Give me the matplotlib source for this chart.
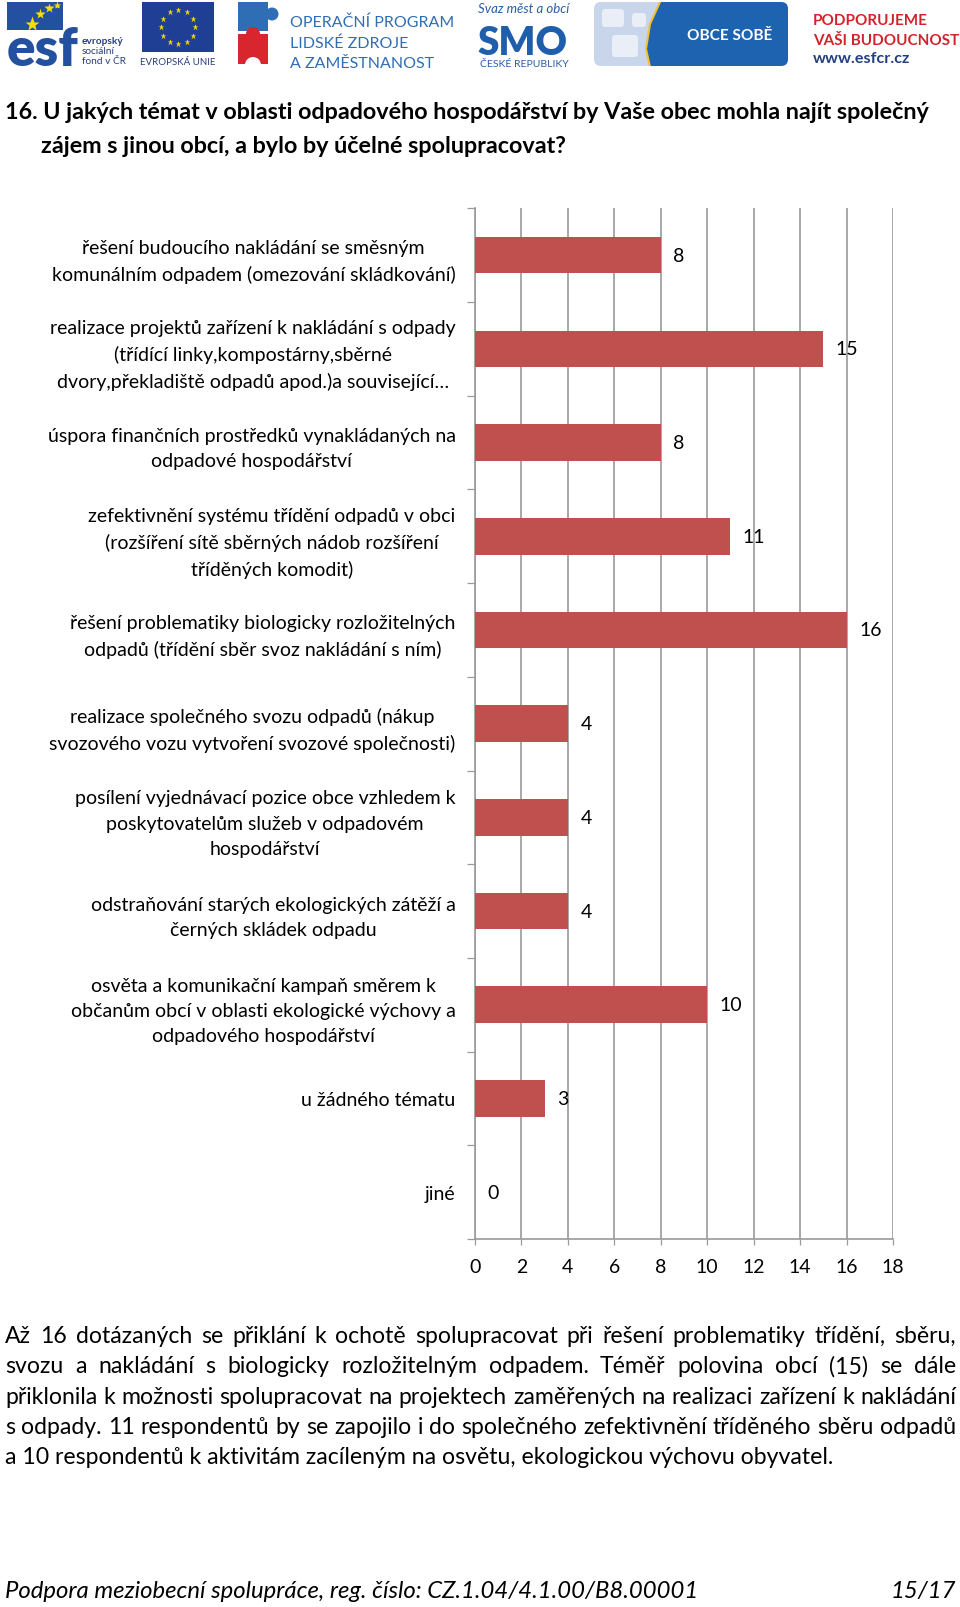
import numpy as np
import matplotlib
matplotlib.use("Agg")
import matplotlib.pyplot as plt
from matplotlib import font_manager
from matplotlib.font_manager import FontProperties
from matplotlib.patches import Rectangle, FancyBboxPatch, Circle, Polygon

W, H = 960, 1608

# ---- data ----
categories = [
    "řešení budoucího nakládání se směsným\nkomunálním odpadem (omezování skládkování)",
    "realizace projektů zařízení k nakládání s odpady\n(třídící linky,kompostárny,sběrné\ndvory,překladiště odpadů apod.)a související…",
    "úspora finančních prostředků vynakládaných na\nodpadové hospodářství",
    "zefektivnění systému třídění odpadů v obci\n(rozšíření sítě sběrných nádob rozšíření\ntříděných komodit)",
    "řešení problematiky biologicky rozložitelných\nodpadů (třídění sběr svoz nakládání s ním)",
    "realizace společného svozu odpadů (nákup\nsvozového vozu vytvoření svozové společnosti)",
    "posílení vyjednávací pozice obce vzhledem k\nposkytovatelům služeb v odpadovém\nhospodářství",
    "odstraňování starých ekologických zátěží a\nčerných skládek odpadu",
    "osvěta a komunikační kampaň směrem k\nobčanům obcí v oblasti ekologické výchovy a\nodpadového hospodářství",
    "u žádného tématu",
    "jiné",
]
values = [8, 15, 8, 11, 16, 4, 4, 4, 10, 3, 0]
xticks = list(range(0, 19, 2))

heading = [
    "16. U jakých témat v oblasti odpadového hospodářství by Vaše obec mohla najít společný",
    "zájem s jinou obcí, a bylo by účelné spolupracovat?",
]
paragraph = [
    "Až 16 dotázaných se přiklání k ochotě spolupracovat při řešení problematiky třídění, sběru,",
    "svozu a nakládání s biologicky rozložitelným odpadem. Téměř polovina obcí (15) se dále",
    "přiklonila k možnosti spolupracovat na projektech zaměřených na realizaci zařízení k nakládání",
    "s odpady. 11 respondentů by se zapojilo i do společného zefektivnění tříděného sběru odpadů",
    "a 10 respondentů k aktivitám zacíleným na osvětu, ekologickou výchovu obyvatel.",
]
footer_left = "Podpora meziobecní spolupráce, reg. číslo: CZ.1.04/4.1.00/B8.00001"
footer_right = "15/17"

# ---- fonts ----
names = {f.name for f in font_manager.fontManager.ttflist}
BODY = "Lato" if "Lato" in names else "DejaVu Sans"
NARROW = "Liberation Sans Narrow" if "Liberation Sans Narrow" in names else BODY

BAR = "#C0504D"
GRID = "#9a9a9a"

fig = plt.figure(figsize=(W / 100, H / 100), dpi=100, facecolor="white")
r = fig.canvas.get_renderer()

page = fig.add_axes([0, 0, 1, 1])
page.set_xlim(0, W)
page.set_ylim(H, 0)
page.axis("off")


def width_px(s, size=10, **kw):
    t = page.text(0, 0, s, fontsize=size, **kw)
    w = t.get_window_extent(r).width
    t.remove()
    return w


def fit(s, target, **kw):
    return 10 * target / width_px(s, 10, **kw)


# ---- logo strip ----
# esf
page.add_patch(Rectangle((7, 3), 56, 28, color="#2450a0", lw=0))
for sx, sy, ms in [(32, 25, 11), (40, 15, 8), (49, 9, 7), (57, 6, 6)]:
    page.plot(sx, sy, marker="*", color="#f4e000", ms=ms, mec="none")
fs = fit("esf", 72, family=BODY, weight="heavy")
page.text(7, 66, "esf", fontsize=fs, family=BODY, weight="heavy", color="#2450a0",
          va="baseline", ha="left")
for txt, yy, wt in [("evropský", 44, "bold"), ("sociální", 54, "normal"), ("fond v ČR", 64, "normal")]:
    page.text(82, yy, txt, fontsize=7.3, family=BODY, weight=wt, color="#2a3f7f", va="baseline")
# EU flag
page.add_patch(Rectangle((142, 3), 72, 50, color="#1f3f95", lw=0))
ang = np.linspace(0, 2 * np.pi, 13)[:-1]
page.plot(178 + 17 * np.cos(ang), 28 + 17 * np.sin(ang), ls="none", marker="*",
          color="#f6d800", ms=5, mec="none")
page.text(178, 65, "EVROPSKÁ UNIE", fontsize=7, family=BODY, color="#2a3f7f",
          ha="center", va="baseline")
# OP LZZ
page.add_patch(Rectangle((238, 3), 30, 29, color="#2f6db5", lw=0))
page.add_patch(Circle((272, 15), 6.5, color="#2f6db5", lw=0))
page.add_patch(Rectangle((238, 35), 30, 30, color="#d7262e", lw=0))
page.add_patch(Circle((253, 35), 7, color="#d7262e", lw=0))
page.add_patch(Circle((253, 66), 8, color="white", lw=0))
fs = fit("OPERAČNÍ PROGRAM", 163, family=BODY)
for txt, yy in [("OPERAČNÍ PROGRAM", 27), ("LIDSKÉ ZDROJE", 48), ("A ZAMĚSTNANOST", 68)]:
    page.text(290, yy, txt, fontsize=fs, family=BODY, color="#2f6db5", va="baseline")
# SMO
page.text(524, 13, "Svaz měst a obcí", fontsize=9.5, family=BODY, style="italic",
          color="#2a5ea8", ha="center", va="baseline")
fs = fit("SMO", 90, family=BODY, weight="heavy")
page.text(522, 55, "SMO", fontsize=fs, family=BODY, weight="heavy", color="#1f5eab",
          ha="center", va="baseline")
page.text(524, 67, "ČESKÉ REPUBLIKY", fontsize=7.5, family=BODY, color="#2a5ea8",
          ha="center", va="baseline")
# OBCE SOBĚ
box = FancyBboxPatch((594, 3), 194, 64, boxstyle="round,pad=0,rounding_size=7",
                     fc="#c8d5ea", ec="none")
page.add_patch(box)
dark = Polygon([(660, 3), (790, 3), (790, 68), (650, 68), (646, 50), (650, 25)],
               closed=True, fc="#1d63b0", ec="none")
page.add_patch(dark)
dark.set_clip_path(box)
edge = page.plot([650, 646, 650, 660], [68, 50, 25, 3], color="#f2c230", lw=1.5)[0]
edge.set_clip_path(box)
for px, py, pw, ph in [(602, 10, 22, 18), (612, 36, 26, 22), (632, 14, 14, 14)]:
    page.add_patch(FancyBboxPatch((px, py), pw, ph, boxstyle="round,pad=0,rounding_size=3",
                                  fc="#e9eef7", ec="none"))
fs = fit("OBCE SOBĚ", 85, family=BODY, weight="bold")
page.text(730, 36, "OBCE SOBĚ", fontsize=fs, family=BODY, weight="bold", color="white",
          ha="center", va="center")
# podporujeme
fs = fit("VAŠI BUDOUCNOST", 146, family=BODY, weight="bold")
page.text(813, 25, "PODPORUJEME", fontsize=fs, family=BODY, weight="bold", color="#d2232a",
          va="baseline")
page.text(813, 45, "VAŠI BUDOUCNOST", fontsize=fs, family=BODY, weight="bold", color="#d2232a",
          va="baseline")
fs = fit("www.esfcr.cz", 97, family=BODY, weight="bold")
page.text(813, 63, "www.esfcr.cz", fontsize=fs, family=BODY, weight="bold", color="#22407f",
          va="baseline")

# ---- heading ----
fs_head = fit(heading[0], 930, family=NARROW, weight="bold")
page.text(5, 119, heading[0], fontsize=fs_head, family=NARROW, weight="bold", va="baseline")
page.text(41, 153, heading[1], fontsize=fs_head, family=NARROW, weight="bold", va="baseline")

# ---- chart ----
ax = fig.add_axes([475 / W, 1 - 1240 / H, 418 / W, 1030.7 / H])
n = len(categories)
pos = np.arange(n)
ax.barh(pos, values, height=0.39, color=BAR, zorder=3)
ax.set_xlim(0, 18)
ax.set_ylim(n - 0.5, -0.5)
ax.set_xticks(xticks)
ax.xaxis.grid(True, color=GRID, lw=1.2)
ax.set_axisbelow(True)
for s in ["top", "right"]:
    ax.spines[s].set_visible(False)
for s in ["left", "bottom"]:
    ax.spines[s].set_color(GRID)
    ax.spines[s].set_linewidth(1.2)

fs_lab = fit("řešení budoucího nakládání se směsným", 342, family=BODY)
lp_w, lp_h, lp_d = r.get_text_width_height_descent("lp", FontProperties(family=BODY, size=fs_lab),
                                                   ismath=False)
ls = (25.4 - lp_d) / (lp_h - lp_d)

ax.set_yticks(np.arange(-0.5, n, 1))
ax.set_yticklabels([])
ax.set_yticks(pos, categories, minor=True, fontsize=fs_lab, family=BODY,
              multialignment="center", linespacing=ls)
ax.tick_params(axis="y", which="major", length=6, width=0.9, color=GRID, direction="out")
ax.tick_params(axis="y", which="minor", length=0, pad=14)
ax.set_xticklabels([str(t) for t in xticks], fontsize=fs_lab, family=BODY)
ax.tick_params(axis="x", length=4.5, width=0.9, color=GRID, direction="out", pad=9)

for i, v in enumerate(values):
    ax.annotate(str(v), (v, i), xytext=(9, 0), textcoords="offset points",
                va="center", ha="left", fontsize=fs_lab, family=BODY)

# ---- paragraph (justified) ----
fs_par = fit(paragraph[2], 946, family=NARROW)
x0, x1 = 5, 956
base = 1343
for k, line in enumerate(paragraph):
    yy = base + k * 30.3
    if k == len(paragraph) - 1:
        page.text(x0, yy, line, fontsize=fs_par, family=NARROW, va="baseline")
        continue
    words = line.split(" ")
    ws = [width_px(wd, fs_par, family=NARROW) for wd in words]
    gap = (x1 - x0 - sum(ws)) / (len(words) - 1)
    x = x0
    for wd, ww in zip(words, ws):
        page.text(x, yy, wd, fontsize=fs_par, family=NARROW, va="baseline")
        x += ww + gap

# ---- footer ----
fs_foot = fit(footer_left, 692, family=NARROW, style="italic")
page.text(5, 1598, footer_left, fontsize=fs_foot, family=NARROW, style="italic", va="baseline")
page.text(956, 1598, footer_right, fontsize=fs_foot, family=NARROW, style="italic",
          ha="right", va="baseline")

fig.savefig("out.png", dpi=100, facecolor="white")
